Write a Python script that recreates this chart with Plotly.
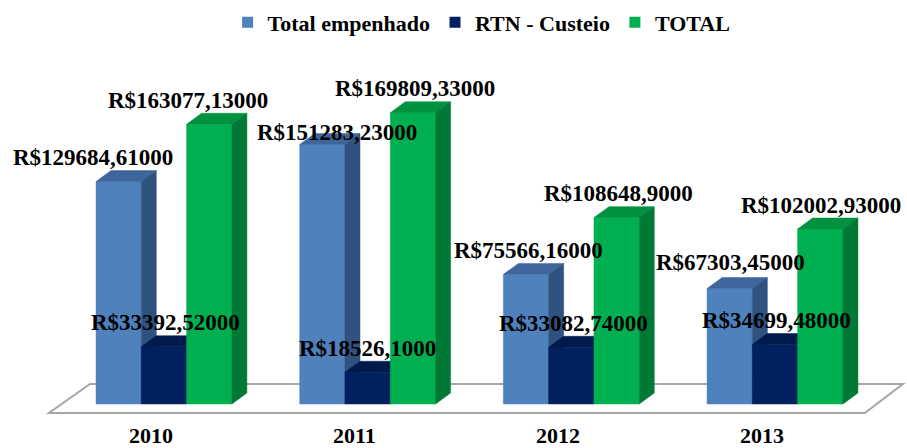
import plotly.graph_objects as go

# ---- data -------------------------------------------------------------
years = ["2010", "2011", "2012", "2013"]
series_names = ["Total empenhado", "RTN - Custeio", "TOTAL"]

total_empenhado = [129684.61, 151283.23, 75566.16, 67303.45]
rtn_custeio = [33392.52, 18526.10, 33082.74, 34699.48]
total = [163077.13, 169809.33, 108648.90, 102002.93]

labels_empenhado = ["R$129684,61000", "R$151283,23000", "R$75566,16000", "R$67303,45000"]
labels_custeio = ["R$33392,52000", "R$18526,1000", "R$33082,74000", "R$34699,48000"]
labels_total = ["R$163077,13000", "R$169809,33000", "R$108648,9000", "R$102002,93000"]

# ---- styling / geometry -----------------------------------------------
FONT = "Liberation Serif"
COLORS = [  # front, top, side
    ("#4f81bd", "#3f669c", "#30527f"),
    ("#002060", "#001a4e", "#00143c"),
    ("#00b050", "#00923f", "#007836"),
]
BAR_W = 0.2224          # width of one bar (category units)
DEPTH_X = 0.0736        # 3-D depth offset, horizontal
DEPTH_Y = 6400          # 3-D depth offset, vertical (value units)

# label nudges (pixels) where labels were moved to avoid collisions
label_dx = [[-26, 15, 2, 1], [2, 0, 2, 1], [-21, 2, 2, 1]]
label_dy = [[0, -12, 0, 2], [0, 0, 0, 0], [0, 0, 0, 0]]

values = [total_empenhado, rtn_custeio, total]
texts = [labels_empenhado, labels_custeio, labels_total]

fig = go.Figure()


def add_faces(xs, ys, color):
    fig.add_trace(go.Scatter(
        x=xs, y=ys, mode="lines", fill="toself", fillcolor=color,
        line=dict(color=color, width=0.5), hoverinfo="skip", showlegend=False))


annotations = []
for s, vals in enumerate(values):
    front, top, side = COLORS[s]
    fx, fy, tx, ty, sx, sy = [], [], [], [], [], []
    for i, v in enumerate(vals):
        x0 = i + (s - 1.5) * BAR_W
        x1 = x0 + BAR_W
        fx += [x0, x1, x1, x0, x0, None]
        fy += [0, 0, v, v, 0, None]
        tx += [x0, x1, x1 + DEPTH_X, x0 + DEPTH_X, x0, None]
        ty += [v, v, v + DEPTH_Y, v + DEPTH_Y, v, None]
        sx += [x1, x1 + DEPTH_X, x1 + DEPTH_X, x1, x1, None]
        sy += [0, DEPTH_Y, v + DEPTH_Y, v, 0, None]
        annotations.append(dict(
            x=(x0 + x1) / 2, y=v + DEPTH_Y, xref="x", yref="y",
            text="<b>" + texts[s][i] + "</b>", showarrow=False,
            xanchor="center", yanchor="middle",
            xshift=label_dx[s][i], yshift=13 + label_dy[s][i],
            font=dict(family=FONT, size=23, color="black")))
    add_faces(fx, fy, front)
    add_faces(tx, ty, top)
    add_faces(sx, sy, side)

# legend entries
for s, name in enumerate(series_names):
    fig.add_trace(go.Scatter(
        x=[None], y=[None], mode="markers", name="<b>" + name + "</b>",
        marker=dict(symbol="square", size=11, color=COLORS[s][0])))

# category labels under the floor
for i, yr in enumerate(years):
    annotations.append(dict(
        x=i, y=-5250, xref="x", yref="y", text="<b>" + yr + "</b>",
        showarrow=False, xanchor="center", yanchor="middle",
        xshift=-13, yshift=-22, borderpad=0,
        font=dict(family=FONT, size=22, color="black")))

# floor of the 3-D plot area
floor_back, floor_front = 11700, -5250
floor_path = (f"M -0.363,{floor_back} L 3.628,{floor_back} "
              f"L 3.441,{floor_front} L -0.565,{floor_front} Z")

fig.update_layout(
    width=907, height=448,
    margin=dict(l=0, r=0, t=0, b=0),
    paper_bgcolor="white", plot_bgcolor="white",
    xaxis=dict(range=[-0.805, 3.648], visible=False, fixedrange=True),
    yaxis=dict(range=[-25650, 235500], visible=False, fixedrange=True),
    shapes=[dict(type="path", path=floor_path, xref="x", yref="y",
                 fillcolor="white", line=dict(color="#a6a6a6", width=2),
                 layer="below")],
    annotations=annotations,
    showlegend=True,
    legend=dict(orientation="h", x=0.531, xanchor="center", y=0.95,
                yanchor="middle", bgcolor="rgba(0,0,0,0)",
                font=dict(family=FONT, size=22, color="black"),
                itemclick=False, itemdoubleclick=False),
)

fig.write_html("out.html")
